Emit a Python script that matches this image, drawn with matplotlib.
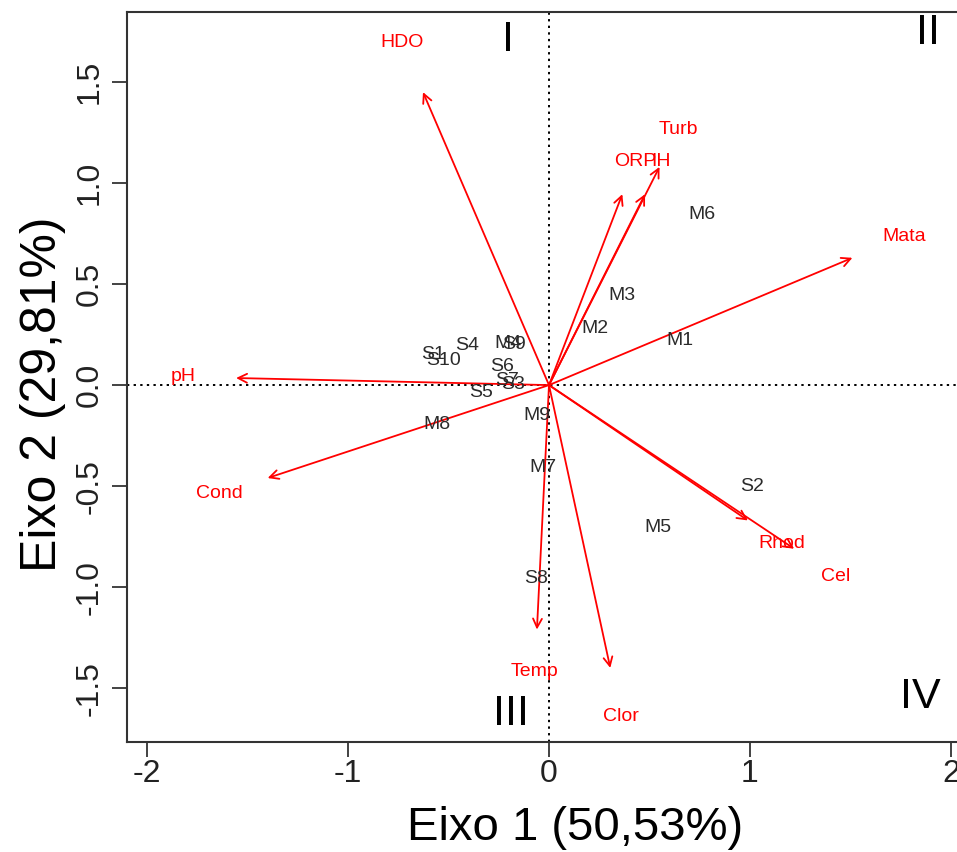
import matplotlib
matplotlib.use("Agg")
import matplotlib.pyplot as plt

plt.rcParams['font.family'] = ['Liberation Sans', 'DejaVu Sans']

# site scores (labels only)
site_names = ['M1', 'M2', 'M3', 'M4', 'M5', 'M6', 'M7', 'M8', 'M9',
              'S1', 'S2', 'S3', 'S4', 'S5', 'S6', 'S7', 'S8', 'S9', 'S10']
site_x = [0.652, 0.229, 0.363, -0.204, 0.542, 0.761, -0.030, -0.557, -0.060,
          -0.577, 1.010, -0.179, -0.408, -0.338, -0.234, -0.209, -0.065, -0.174, -0.527]
site_y = [0.223, 0.282, 0.441, 0.208, -0.703, 0.842, -0.410, -0.193, -0.149,
          0.149, -0.500, 0.005, 0.198, -0.035, 0.094, 0.025, -0.955, 0.203, 0.124]

# variable loadings (arrow tips)
var_names = ['HDO', 'Turb', 'ORP', 'IH', 'Mata', 'pH', 'Cond', 'Rhod', 'Cel', 'Temp', 'Clor']
var_x = [-0.627, 0.550, 0.365, 0.478, 1.510, -1.557, -1.400, 0.990, 1.220, -0.060, 0.305]
var_y = [1.450, 1.080, 0.945, 0.945, 0.630, 0.035, -0.460, -0.670, -0.810, -1.210, -1.400]
label_scale = 1.17

quad_names = ['I', 'II', 'III', 'IV']
quad_x = [-0.204, 1.886, -0.190, 1.846]
quad_y = [1.708, 1.743, -1.630, -1.545]

fig = plt.figure(figsize=(9.57, 8.52), dpi=100)
# plot region runs a little past the right edge (the original is cropped there)
ax = fig.add_axes([0.1327, 0.129, (971 - 127) / 957, 0.986 - 0.129])

ax.axhline(0, color='black', ls=(0, (1.2, 2.2)), lw=1.4, zorder=1)
ax.axvline(0, color='black', ls=(0, (1.2, 2.2)), lw=1.4, zorder=1)

for name, x, y in zip(var_names, var_x, var_y):
    ax.annotate('', xy=(x, y), xytext=(0, 0),
                arrowprops=dict(arrowstyle='->', color='red', lw=1.3,
                                mutation_scale=16, shrinkA=0, shrinkB=0))
    ax.text(x * label_scale, y * label_scale, name, color='red', fontsize=14,
            ha='center', va='center')

for name, x, y in zip(site_names, site_x, site_y):
    ax.text(x, y, name, color='#2b2b2b', fontsize=14, ha='center', va='center')

for name, x, y in zip(quad_names, quad_x, quad_y):
    ax.text(x, y, name, color='black', fontsize=31, ha='center', va='center')

ax.set_xlim(-2.10, 2.10)
ax.set_ylim(-1.767, 1.847)
ax.set_xticks([-2, -1, 0, 1, 2])
ax.set_yticks([-1.5, -1.0, -0.5, 0.0, 0.5, 1.0, 1.5])
ax.set_xticklabels(['-2', '-1', '0', '1', '2'])
ax.set_yticklabels(['-1.5', '-1.0', '-0.5', '0.0', '0.5', '1.0', '1.5'],
                   rotation=90, va='center')
ax.tick_params(axis='both', direction='out', length=11, width=1.2,
               labelsize=23, colors='#222222')
ax.tick_params(axis='x', pad=1)
ax.tick_params(axis='y', pad=5)
for sp in ax.spines.values():
    sp.set_linewidth(1.5)
    sp.set_color('#333333')

ax.set_xlabel('Eixo 1 (50,53%)', fontsize=34, va='center')
ax.xaxis.set_label_coords(0.531, -0.118)
ax.set_ylabel('Eixo 2 (29,81%)', fontsize=36, va='center')
ax.yaxis.set_label_coords(-0.1, 0.477)

fig.savefig('out.png', dpi=100)
